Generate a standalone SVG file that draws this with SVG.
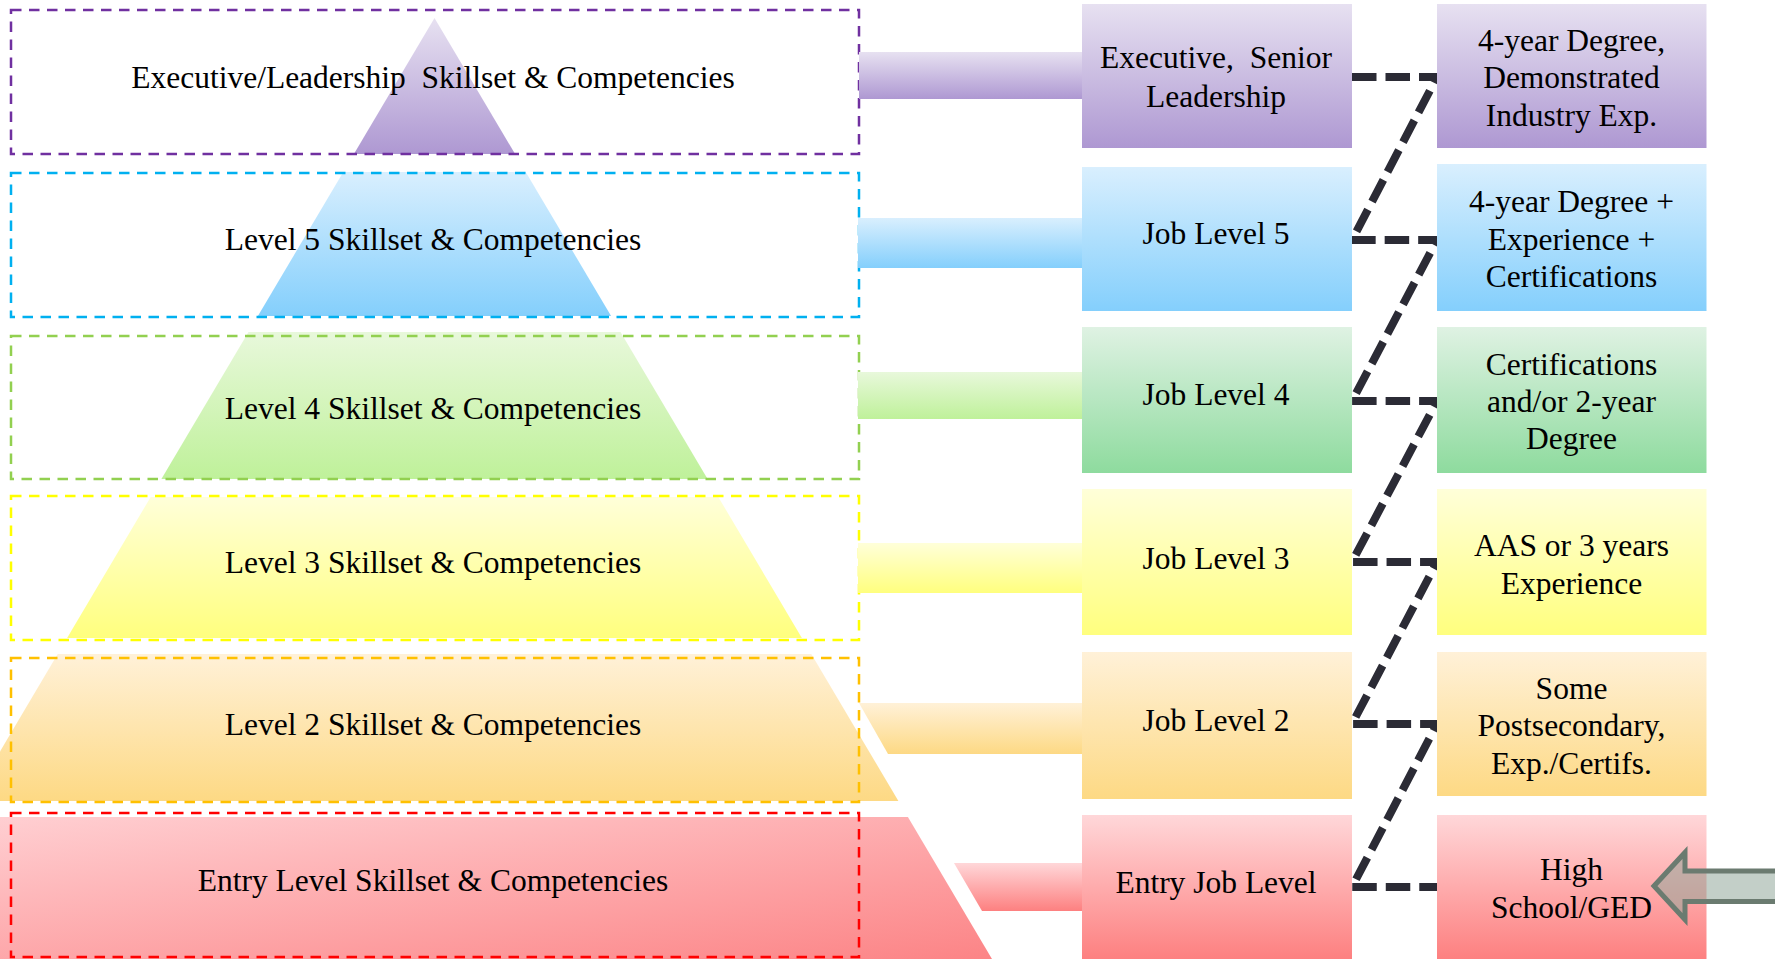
<svg xmlns="http://www.w3.org/2000/svg" width="1775" height="959" viewBox="0 0 1775 959">
<defs>
<style>
text{font-family:"Liberation Serif","Times New Roman",serif;font-size:31.5px;fill:#000;text-anchor:middle;white-space:pre}
.lvl{fill:none;stroke-width:2.5;stroke-dasharray:10.5 7.5}
.zig{fill:none;stroke:#2b2b35;stroke-width:8;stroke-dasharray:24.5 9;stroke-linejoin:bevel}
</style>
<linearGradient id="gPu" x1="0" y1="0" x2="0" y2="1"><stop offset="0" stop-color="#e7e1f1"/><stop offset="1" stop-color="#ae98d2"/></linearGradient>
<linearGradient id="gBl" x1="0" y1="0" x2="0" y2="1"><stop offset="0" stop-color="#d9effe"/><stop offset="1" stop-color="#84cffc"/></linearGradient>
<linearGradient id="gGrL" x1="0" y1="0" x2="0" y2="1"><stop offset="0" stop-color="#e8f8db"/><stop offset="1" stop-color="#bff19a"/></linearGradient>
<linearGradient id="gGr" x1="0" y1="0" x2="0" y2="1"><stop offset="0" stop-color="#dff2e3"/><stop offset="1" stop-color="#8edb9e"/></linearGradient>
<linearGradient id="gYe" x1="0" y1="0" x2="0" y2="1"><stop offset="0" stop-color="#ffffd9"/><stop offset="1" stop-color="#ffff7e"/></linearGradient>
<linearGradient id="gOr" x1="0" y1="0" x2="0" y2="1"><stop offset="0" stop-color="#fff1d8"/><stop offset="1" stop-color="#fdd984"/></linearGradient>
<linearGradient id="gRe" x1="0" y1="0" x2="0" y2="1"><stop offset="0" stop-color="#ffd7d9"/><stop offset="1" stop-color="#fd8080"/></linearGradient>
<linearGradient id="gReD" x1="0" y1="0" x2="1" y2="1"><stop offset="0" stop-color="#ffd3d6"/><stop offset="1" stop-color="#fc8486"/></linearGradient>
</defs>
<rect width="1775" height="959" fill="#fff"/>

<g id="level-executive">
<polygon points="434.5,18 515.1,154 353.9,154" fill="url(#gPu)"/>
<rect class="lvl" x="11" y="10" width="848" height="144" stroke="#7030a0"/>
<text x="433" y="87.5">Executive/Leadership  Skillset &amp; Competencies</text>
</g>
<g id="level-5">
<polygon points="343.3,172 525.7,172 611.1,316 257.9,316" fill="url(#gBl)"/>
<rect class="lvl" x="11" y="173" width="848" height="144" stroke="#00b0f0"/>
<text x="433" y="249.5">Level 5 Skillset &amp; Competencies</text>
</g>
<g id="level-4">
<polygon points="248.5,332 620.5,332 707.6,479 161.4,479" fill="url(#gGrL)"/>
<rect class="lvl" x="11" y="336" width="848" height="143" stroke="#92d050"/>
<text x="433" y="419">Level 4 Skillset &amp; Competencies</text>
</g>
<g id="level-3">
<polygon points="150.7,497 718.3,497 801.9,638 67.1,638" fill="url(#gYe)"/>
<rect class="lvl" x="11" y="496" width="848" height="144" stroke="#ffff00"/>
<text x="433" y="573">Level 3 Skillset &amp; Competencies</text>
</g>
<g id="level-2">
<polygon points="57.7,654 811.3,654 898.4,801 -29.4,801" fill="url(#gOr)"/>
<rect class="lvl" x="11" y="658" width="848" height="144" stroke="#ffc000"/>
<text x="433" y="735">Level 2 Skillset &amp; Competencies</text>
</g>
<g id="level-entry">
<polygon points="-38.9,817 907.9,817 992,959 -123,959" fill="url(#gReD)"/>
<rect class="lvl" x="11" y="813" width="848" height="144" stroke="#ff0000"/>
<text x="433" y="891">Entry Level Skillset &amp; Competencies</text>
</g>

<g id="connectors">
<rect x="859" y="52" width="223" height="47" fill="url(#gPu)"/>
<rect x="858" y="218" width="224" height="50" fill="url(#gBl)"/>
<rect x="858" y="372" width="224" height="47" fill="url(#gGrL)"/>
<rect x="858" y="543" width="224" height="50" fill="url(#gYe)"/>
<polygon points="859,703 1082,703 1082,754 888,754" fill="url(#gOr)"/>
<polygon points="954,863 1082,863 1082,911 982,911" fill="url(#gRe)"/>
<polyline class="zig" points="1352,77 1437,77 1352,240 1437,240 1352,401 1437,401 1352,562 1437,562 1352,724 1437,724 1352,887 1437,887"/>
</g>

<g id="job-executive">
<rect x="1082" y="4" width="270" height="144" fill="url(#gPu)"/>
<text x="1216" y="68">Executive,  Senior</text>
<text x="1216" y="106.5">Leadership</text>
</g>
<g id="job-5">
<rect x="1082" y="167" width="270" height="144" fill="url(#gBl)"/>
<text x="1216" y="244">Job Level 5</text>
</g>
<g id="job-4">
<rect x="1082" y="327" width="270" height="146" fill="url(#gGr)"/>
<text x="1216" y="405">Job Level 4</text>
</g>
<g id="job-3">
<rect x="1082" y="489" width="270" height="146" fill="url(#gYe)"/>
<text x="1216" y="568.5">Job Level 3</text>
</g>
<g id="job-2">
<rect x="1082" y="652" width="270" height="147" fill="url(#gOr)"/>
<text x="1216" y="731">Job Level 2</text>
</g>
<g id="job-entry">
<rect x="1082" y="815" width="270" height="144" fill="url(#gRe)"/>
<text x="1216" y="892.5">Entry Job Level</text>
</g>

<g id="edu-executive">
<rect x="1437" y="4" width="269.5" height="144" fill="url(#gPu)"/>
<text x="1571.5" y="50.5">4-year Degree,</text>
<text x="1571.5" y="88">Demonstrated</text>
<text x="1571.5" y="125.5">Industry Exp.</text>
</g>
<g id="edu-5">
<rect x="1437" y="164" width="269.5" height="147" fill="url(#gBl)"/>
<text x="1571.5" y="212">4-year Degree +</text>
<text x="1571.5" y="249.5">Experience +</text>
<text x="1571.5" y="286.5">Certifications</text>
</g>
<g id="edu-4">
<rect x="1437" y="327" width="269.5" height="146" fill="url(#gGr)"/>
<text x="1571.5" y="375">Certifications</text>
<text x="1571.5" y="412">and/or 2-year</text>
<text x="1571.5" y="448.5">Degree</text>
</g>
<g id="edu-3">
<rect x="1437" y="489" width="269.5" height="146" fill="url(#gYe)"/>
<text x="1571.5" y="556">AAS or 3 years</text>
<text x="1571.5" y="593.5">Experience</text>
</g>
<g id="edu-2">
<rect x="1437" y="652" width="269.5" height="144" fill="url(#gOr)"/>
<text x="1571.5" y="698.5">Some</text>
<text x="1571.5" y="736">Postsecondary,</text>
<text x="1571.5" y="773.5">Exp./Certifs.</text>
</g>
<g id="edu-entry">
<rect x="1437" y="815" width="269.5" height="144" fill="url(#gRe)"/>
<text x="1571.5" y="879.5">High</text>
<text x="1571.5" y="918">School/GED</text>
</g>

<g id="entry-arrow">
<polygon points="1654,886 1685,852.5 1685,871 1790,871 1790,901.5 1685,901.5 1685,919.5" fill="#90a69a" fill-opacity="0.54" stroke="#6b7b70" stroke-width="5" stroke-linejoin="miter"/>
</g>
</svg>
